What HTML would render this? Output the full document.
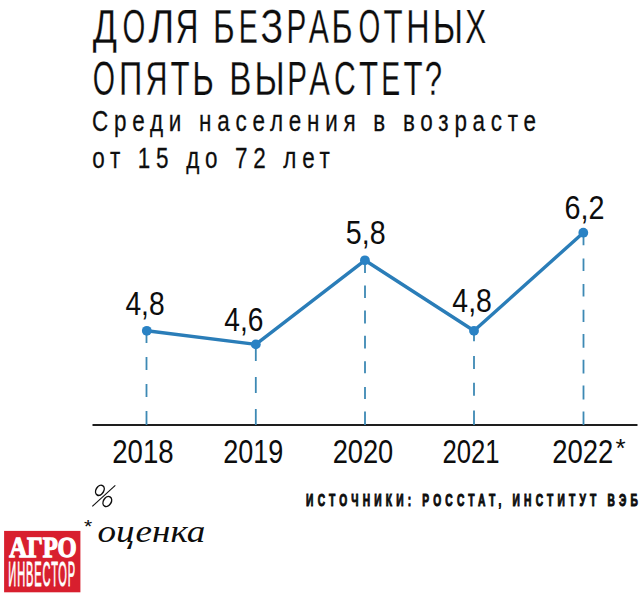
<!DOCTYPE html>
<html><head><meta charset="utf-8">
<style>
html,body{margin:0;padding:0;background:#fff;}
body{width:644px;height:595px;overflow:hidden;position:relative;}
svg{position:absolute;left:0;top:0;}
</style></head><body>
<svg width="644" height="595" viewBox="0 0 644 595">
<rect width="644" height="595" fill="#fff"/>
<text transform="translate(92.84,43) scale(0.7480,1)" style="font-family:'Liberation Sans';font-weight:400;font-size:47.82px" fill="#0d0d0d" stroke="#fff" stroke-width="0.25">Д</text>
<text transform="translate(122.51,43) scale(0.6127,1)" style="font-family:'Liberation Sans';font-weight:400;font-size:47.82px" fill="#0d0d0d" stroke="#fff" stroke-width="0.25">О</text>
<text transform="translate(148.55,43) scale(0.8240,1)" style="font-family:'Liberation Sans';font-weight:400;font-size:47.82px" fill="#0d0d0d" stroke="#fff" stroke-width="0.25">Л</text>
<text transform="translate(175.83,43) scale(0.6551,1)" style="font-family:'Liberation Sans';font-weight:400;font-size:47.82px" fill="#0d0d0d" stroke="#fff" stroke-width="0.25">Я</text>
<text transform="translate(213.08,43) scale(0.6924,1)" style="font-family:'Liberation Sans';font-weight:400;font-size:47.82px" fill="#0d0d0d" stroke="#fff" stroke-width="0.25">Б</text>
<text transform="translate(238.67,43) scale(0.5942,1)" style="font-family:'Liberation Sans';font-weight:400;font-size:47.82px" fill="#0d0d0d" stroke="#fff" stroke-width="0.25">Е</text>
<text transform="translate(260.47,43) scale(0.7852,1)" style="font-family:'Liberation Sans';font-weight:400;font-size:47.82px" fill="#0d0d0d" stroke="#fff" stroke-width="0.25">З</text>
<text transform="translate(286.46,43) scale(0.6208,1)" style="font-family:'Liberation Sans';font-weight:400;font-size:47.82px" fill="#0d0d0d" stroke="#fff" stroke-width="0.25">Р</text>
<text transform="translate(308.84,43) scale(0.6307,1)" style="font-family:'Liberation Sans';font-weight:400;font-size:47.82px" fill="#0d0d0d" stroke="#fff" stroke-width="0.25">А</text>
<text transform="translate(331.56,43) scale(0.6724,1)" style="font-family:'Liberation Sans';font-weight:400;font-size:47.82px" fill="#0d0d0d" stroke="#fff" stroke-width="0.25">Б</text>
<text transform="translate(358.47,43) scale(0.5851,1)" style="font-family:'Liberation Sans';font-weight:400;font-size:47.82px" fill="#0d0d0d" stroke="#fff" stroke-width="0.25">О</text>
<text transform="translate(383.40,43) scale(0.6546,1)" style="font-family:'Liberation Sans';font-weight:400;font-size:47.82px" fill="#0d0d0d" stroke="#fff" stroke-width="0.25">Т</text>
<text transform="translate(406.14,43) scale(0.6776,1)" style="font-family:'Liberation Sans';font-weight:400;font-size:47.82px" fill="#0d0d0d" stroke="#fff" stroke-width="0.25">Н</text>
<text transform="translate(432.79,43) scale(0.7162,1)" style="font-family:'Liberation Sans';font-weight:400;font-size:47.82px" fill="#0d0d0d" stroke="#fff" stroke-width="0.25">Ы</text>
<text transform="translate(465.19,43) scale(0.6573,1)" style="font-family:'Liberation Sans';font-weight:400;font-size:47.82px" fill="#0d0d0d" stroke="#fff" stroke-width="0.25">Х</text>
<text transform="translate(92.75,95) scale(0.6010,1)" style="font-family:'Liberation Sans';font-weight:400;font-size:47.53px" fill="#0d0d0d" stroke="#fff" stroke-width="0.25">О</text>
<text transform="translate(118.97,95) scale(0.6817,1)" style="font-family:'Liberation Sans';font-weight:400;font-size:47.53px" fill="#0d0d0d" stroke="#fff" stroke-width="0.25">П</text>
<text transform="translate(145.47,95) scale(0.6414,1)" style="font-family:'Liberation Sans';font-weight:400;font-size:47.53px" fill="#0d0d0d" stroke="#fff" stroke-width="0.25">Я</text>
<text transform="translate(170.40,95) scale(0.6586,1)" style="font-family:'Liberation Sans';font-weight:400;font-size:47.53px" fill="#0d0d0d" stroke="#fff" stroke-width="0.25">Т</text>
<text transform="translate(192.30,95) scale(0.6926,1)" style="font-family:'Liberation Sans';font-weight:400;font-size:47.53px" fill="#0d0d0d" stroke="#fff" stroke-width="0.25">Ь</text>
<text transform="translate(229.27,95) scale(0.6997,1)" style="font-family:'Liberation Sans';font-weight:400;font-size:47.53px" fill="#0d0d0d" stroke="#fff" stroke-width="0.25">В</text>
<text transform="translate(254.40,95) scale(0.7177,1)" style="font-family:'Liberation Sans';font-weight:400;font-size:47.53px" fill="#0d0d0d" stroke="#fff" stroke-width="0.25">Ы</text>
<text transform="translate(287.36,95) scale(0.6246,1)" style="font-family:'Liberation Sans';font-weight:400;font-size:47.53px" fill="#0d0d0d" stroke="#fff" stroke-width="0.25">Р</text>
<text transform="translate(309.34,95) scale(0.6505,1)" style="font-family:'Liberation Sans';font-weight:400;font-size:47.53px" fill="#0d0d0d" stroke="#fff" stroke-width="0.25">А</text>
<text transform="translate(334.07,95) scale(0.6345,1)" style="font-family:'Liberation Sans';font-weight:400;font-size:47.53px" fill="#0d0d0d" stroke="#fff" stroke-width="0.25">С</text>
<text transform="translate(359.10,95) scale(0.6586,1)" style="font-family:'Liberation Sans';font-weight:400;font-size:47.53px" fill="#0d0d0d" stroke="#fff" stroke-width="0.25">Т</text>
<text transform="translate(381.37,95) scale(0.5978,1)" style="font-family:'Liberation Sans';font-weight:400;font-size:47.53px" fill="#0d0d0d" stroke="#fff" stroke-width="0.25">Е</text>
<text transform="translate(403.50,95) scale(0.6586,1)" style="font-family:'Liberation Sans';font-weight:400;font-size:47.53px" fill="#0d0d0d" stroke="#fff" stroke-width="0.25">Т</text>
<text transform="translate(424.82,95) scale(0.6558,1)" style="font-family:'Liberation Sans';font-weight:400;font-size:47.53px" fill="#0d0d0d" stroke="#fff" stroke-width="0.25">?</text>
<text transform="translate(92.06,131.3) scale(0.7500,1)" style="font-family:'Liberation Sans';font-weight:400;font-size:29.94px;letter-spacing:7.661px" fill="#0d0d0d" stroke="#1a1a1a" stroke-width="0.3">Среди населения в возрасте</text>
<text transform="translate(92.26,168) scale(0.7500,1)" style="font-family:'Liberation Sans';font-weight:400;font-size:29.94px;letter-spacing:7.597px" fill="#0d0d0d" stroke="#1a1a1a" stroke-width="0.3">от 15 до 72 лет</text>
<text transform="translate(125.45,314.8) scale(0.8356,1)" style="font-family:'Liberation Sans';font-weight:400;font-size:33.72px" fill="#0d0d0d">4,8</text>
<text transform="translate(224.35,330.7) scale(0.8359,1)" style="font-family:'Liberation Sans';font-weight:400;font-size:33.72px" fill="#0d0d0d">4,6</text>
<text transform="translate(345.85,243.5) scale(0.8488,1)" style="font-family:'Liberation Sans';font-weight:400;font-size:33.72px" fill="#0d0d0d">5,8</text>
<text transform="translate(452.35,311.8) scale(0.8423,1)" style="font-family:'Liberation Sans';font-weight:400;font-size:33.72px" fill="#0d0d0d">4,8</text>
<text transform="translate(564.44,218.8) scale(0.8535,1)" style="font-family:'Liberation Sans';font-weight:400;font-size:33.72px" fill="#0d0d0d">6,2</text>
<text transform="translate(112.21,463) scale(0.8327,1)" style="font-family:'Liberation Sans';font-weight:400;font-size:33.14px" fill="#0d0d0d">2018</text>
<text transform="translate(223.14,463) scale(0.8157,1)" style="font-family:'Liberation Sans';font-weight:400;font-size:33.14px" fill="#0d0d0d">2019</text>
<text transform="translate(332.63,463) scale(0.8225,1)" style="font-family:'Liberation Sans';font-weight:400;font-size:33.14px" fill="#0d0d0d">2020</text>
<text transform="translate(442.41,463) scale(0.7751,1)" style="font-family:'Liberation Sans';font-weight:400;font-size:33.14px" fill="#0d0d0d">2021</text>
<text transform="translate(552.32,463) scale(0.8282,1)" style="font-family:'Liberation Sans';font-weight:400;font-size:33.14px" fill="#0d0d0d">2022</text>
<text transform="translate(615.6,457.4)" style="font-family:'Liberation Sans';font-size:26px" fill="#0d0d0d">*</text>
<rect x="92.5" y="424" width="545" height="2" fill="#1e1e1e"/>
<g stroke="#3d89b4" stroke-width="1.8">
<path d="M146.5 331V343M146.5 357V370M146.5 384V397M146.5 411V425"/>
<path d="M255.8 344V361M255.8 377V393M255.8 409V425"/>
<path d="M365 260V273M365 285.5V298M365 310.5V323.4M365 335.8V348.6M365 361.3V373.3M365 386.9V398.9M365 411.6V425"/>
<path d="M474 331V341.3M474 356V369M474 382.8V395.8M474 410.6V425"/>
<path d="M583.5 233V245.3M583.5 258.5V271M583.5 284V296.5M583.5 309.7V322M583.5 334V347.7M583.5 359.7V373.6M583.5 385.6V399.5M583.5 411.5V425"/>
</g>
<polyline points="146.8,330.8 255.8,344.4 364.9,260.3 474,330.8 583.3,232.7" fill="none" stroke="#2a7db8" stroke-width="3.4" stroke-linejoin="round"/>
<g fill="#2a82c4">
<circle cx="146.8" cy="330.8" r="4.9"/>
<circle cx="255.8" cy="344.4" r="4.9"/>
<circle cx="364.9" cy="260.3" r="4.9"/>
<circle cx="474" cy="330.8" r="4.9"/>
<circle cx="583.3" cy="232.7" r="4.9"/>
</g>
<line x1="92.3" y1="506.4" x2="115.3" y2="485.3" stroke="#0d0d0d" stroke-width="1.1"/>
<ellipse cx="99.9" cy="490.3" rx="3.9" ry="5.4" transform="rotate(30 99.9 490.3)" fill="none" stroke="#0d0d0d" stroke-width="1.5"/>
<ellipse cx="107.3" cy="501.5" rx="3.9" ry="5.4" transform="rotate(30 107.3 501.5)" fill="none" stroke="#0d0d0d" stroke-width="1.5"/>
<text transform="translate(84.0,533.4) scale(1.19,1)" style="font-family:'Liberation Sans';font-size:17.7px" fill="#0d0d0d">*</text>
<text transform="translate(97.49,541.5) scale(1.1742,1)" style="font-family:'Liberation Serif';font-style:italic;font-weight:400;font-size:31.60px" fill="#0d0d0d">оценка</text>
<text transform="translate(306.12,505.6) scale(0.6400,1)" style="font-family:'Liberation Sans';font-weight:700;font-size:15.99px;letter-spacing:6.547px" fill="#0d0d0d" stroke="#0d0d0d" stroke-width="1.0">ИСТОЧНИКИ: РОССТАТ, ИНСТИТУТ ВЭБ</text>
<rect x="4.1" y="530.9" width="76.3" height="61.4" fill="#d81f2e"/>
<text transform="translate(9.36,557.0) scale(0.8341,1)" style="font-family:'Liberation Serif';font-weight:700;font-size:29.48px" fill="#fff" stroke="#fff" stroke-width="1.3">АГРО</text>
<text transform="translate(8.29,585.8) scale(0.3200,1)" style="font-family:'Liberation Sans';font-weight:400;font-size:34.59px;letter-spacing:2.823px" fill="#fff" stroke="#fff" stroke-width="0.9">ИНВЕСТОР</text>
</svg>
</body></html>
